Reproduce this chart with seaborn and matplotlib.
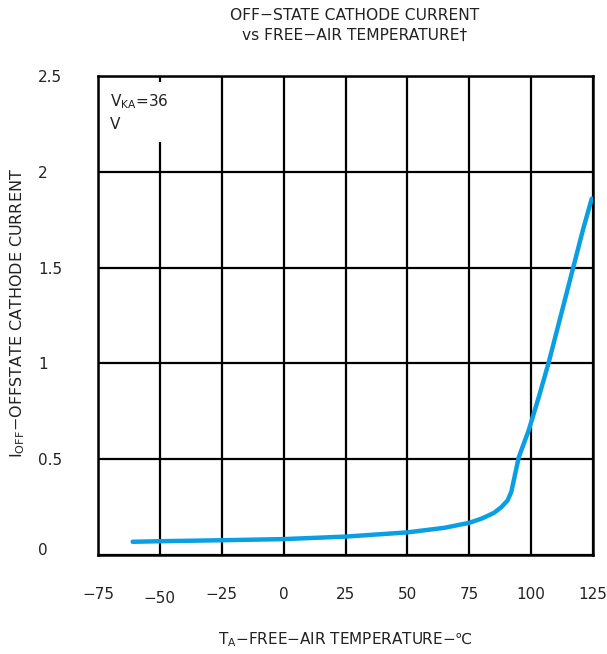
import matplotlib
matplotlib.use("Agg")
import matplotlib.pyplot as plt
import matplotlib.transforms as mtransforms
import seaborn as sns
import pandas as pd

# data
temperature = [-61, -50, -25, 0, 25, 50, 65, 75, 80, 85, 88, 90.5, 92, 93, 94, 95, 97, 99, 103, 107, 112, 117, 121, 124.5]
current = [0.069, 0.072, 0.077, 0.083, 0.096, 0.118, 0.142, 0.168, 0.19, 0.22, 0.25, 0.285, 0.33, 0.39, 0.45, 0.51, 0.58, 0.65, 0.82, 1.0, 1.25, 1.5, 1.7, 1.86]
x_ticks = [-75, -50, -25, 0, 25, 50, 75, 100, 125]
y_ticks = [0, 0.5, 1, 1.5, 2, 2.5]
y_tick_labels = ["0", "0.5", "1", "1.5", "2", "2.5"]

df = pd.DataFrame({"T": temperature, "I": current})

sns.set_theme(style="white")
plt.rcParams["font.family"] = ["DejaVu Sans"]

fig = plt.figure(figsize=(6.07, 6.54), dpi=100)
ax = fig.add_axes([98 / 607, 1 - 555 / 654, 495 / 607, 479 / 654])

sns.lineplot(data=df, x="T", y="I", ax=ax, color="#0a9fe3", linewidth=3.2, zorder=5)

ax.set_xlim(-75, 125)
ax.set_ylim(0, 2.5)
ax.set_xticks(x_ticks)
ax.set_xticklabels([f"\u2212{abs(v)}" if v < 0 else str(v) for v in x_ticks])
ax.set_yticks(y_ticks)
ax.set_yticklabels(y_tick_labels)
ax.grid(True, color="black", linewidth=1.6)
ax.set_axisbelow(True)
for s in ax.spines.values():
    s.set_color("black")
    s.set_linewidth(1.8)

ax.tick_params(axis="both", length=0, labelsize=11, colors="#222222")
ax.tick_params(axis="x", pad=23)
ax.tick_params(axis="y", pad=43)
for lab in ax.get_yticklabels():
    lab.set_horizontalalignment("left")
# -50 label is drawn slightly lower in the reference
for lab in ax.get_xticklabels():
    if lab.get_text() == "\u221250":
        lab.set_transform(lab.get_transform() + mtransforms.ScaledTranslation(0, -4 / 100, fig.dpi_scale_trans))
for lab in ax.get_yticklabels():
    if lab.get_text() == "0":
        lab.set_transform(lab.get_transform() + mtransforms.ScaledTranslation(0, 6 / 100, fig.dpi_scale_trans))

ax.set_xlabel("T$_\\mathregular{A}$\u2212FREE\u2212AIR TEMPERATURE\u2212\u2103", fontsize=11, color="#222222")
ax.xaxis.set_label_coords(0.5, -(640 - 555) / 479)
ax.xaxis.label.set_verticalalignment("center")
ax.set_ylabel("I$_\\mathregular{OFF}$\u2212OFFSTATE CATHODE CURRENT", fontsize=11.5, color="#222222")
ax.yaxis.set_label_coords(-(98 - 18) / 495, (555 - 313) / 479)
ax.yaxis.label.set_verticalalignment("center")

ax.text(0.025, 0.965, "V$_\\mathregular{KA}$=36\nV", transform=ax.transAxes, fontsize=11,
        va="top", ha="left", color="#222222", linespacing=1.5,
        bbox=dict(boxstyle="square,pad=0.6", fc="white", ec="none"), zorder=6)

fig.text(355 / 607, 1 - 15 / 654, "OFF\u2212STATE CATHODE CURRENT", ha="center", va="center", fontsize=11.2, color="#222222")
fig.text(355 / 607, 1 - 35 / 654, "vs FREE\u2212AIR TEMPERATURE\u2020", ha="center", va="center", fontsize=11.2, color="#222222")

fig.savefig("out.png", dpi=100)
